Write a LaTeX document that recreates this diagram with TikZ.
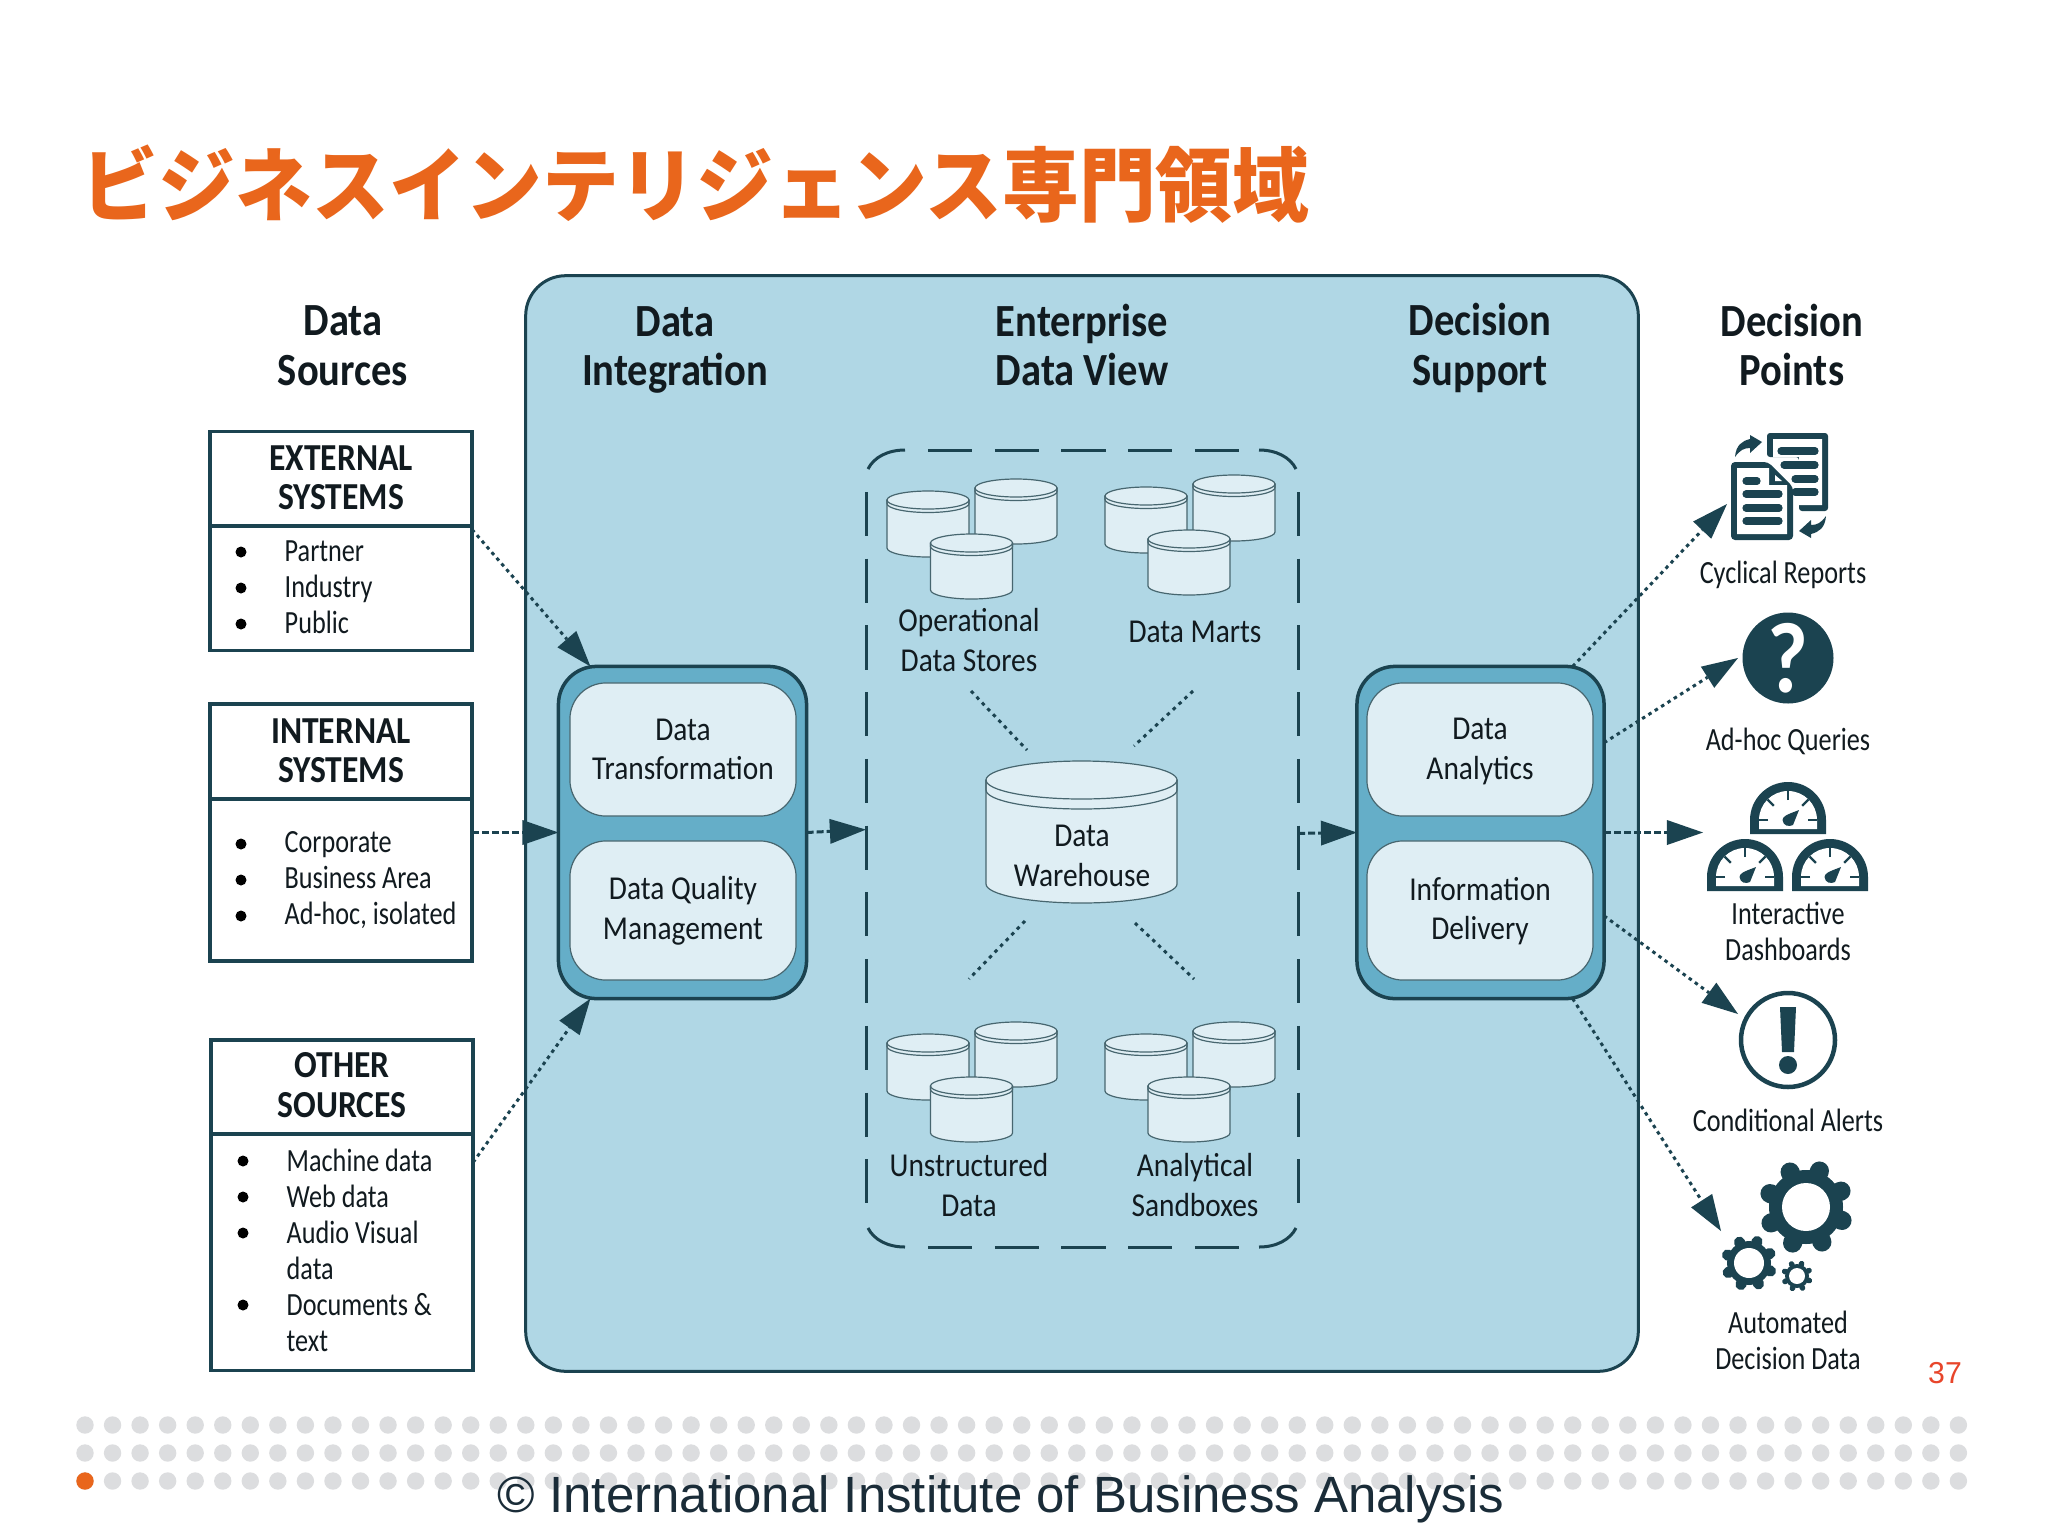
\documentclass[tikz,border=0pt]{standalone}
\usepackage{fontspec}
\usetikzlibrary{arrows.meta}
\setmainfont{Carlito}[FakeStretch=0.88]
\newfontfamily\narrowlab{Carlito}[FakeStretch=0.81]
\newfontfamily\cjk{Noto Sans CJK JP}[FakeStretch=0.95]
\newfontfamily\arialish{Liberation Sans}
\definecolor{dk}{HTML}{1B4350}
\definecolor{bluebg}{HTML}{B0D7E5}
\definecolor{groupbg}{HTML}{65AEC8}
\definecolor{pale}{HTML}{DFEEF4}
\definecolor{cylline}{HTML}{47666F}
\definecolor{dotgrey}{HTML}{DCDDDF}
\definecolor{titleor}{HTML}{E9661C}
\definecolor{pagered}{HTML}{E8452A}
\definecolor{inktext}{HTML}{111A1F}
\definecolor{copytext}{HTML}{1A2C38}

% database drum: cx, top, rx, ry, band, bottom
\newcommand{\dbdrum}[6]{%
  \pgfmathsetmacro\drumL{#1-#3}\pgfmathsetmacro\drumR{#1+#3}%
  \pgfmathsetmacro\drumC{#2+#4}\pgfmathsetmacro\drumB{#6-#4}%
  \pgfmathsetmacro\drumE{\drumC+#5}%
  \pgfmathsetmacro\drumKx{0.5523*#3}\pgfmathsetmacro\drumKy{0.5523*#4}%
  \draw[drum] (\drumL,\drumC) -- (\drumL,\drumB)
    .. controls (\drumL,\drumB+\drumKy) and (#1-\drumKx,#6) .. (#1,#6)
    .. controls (#1+\drumKx,#6) and (\drumR,\drumB+\drumKy) .. (\drumR,\drumB)
    -- (\drumR,\drumC) -- cycle;
  \draw[drum] (#1,\drumC) ellipse (#3 and #4);
  \draw[drum,fill=none] (\drumL,\drumC) -- (\drumL,\drumE)
    .. controls (\drumL,\drumE+\drumKy) and (#1-\drumKx,\drumE+#4) .. (#1,\drumE+#4)
    .. controls (#1+\drumKx,\drumE+#4) and (\drumR,\drumE+\drumKy) .. (\drumR,\drumE)
    -- (\drumR,\drumC);
}
% dome outline of a gauge: cx, base, r, y of arc centre, colour
\newcommand{\gaugedome}[5]{%
  \pgfmathsetmacro\domeK{0.5523*#3}%
  \fill[#5] (#1-#3,#2) -- (#1-#3,#4)
    .. controls (#1-#3,#4-\domeK) and (#1-\domeK,#4-#3) .. (#1,#4-#3)
    .. controls (#1+\domeK,#4-#3) and (#1+#3,#4-\domeK) .. (#1+#3,#4)
    -- (#1+#3,#2) -- cycle;
}
\newcommand{\gaugeicon}[2]{%
  \gaugedome{#1}{#2}{38}{#2-14}{dk}
  \gaugedome{#1}{#2-5}{29}{#2-14}{white}
  \begin{scope}[shift={(#1,#2-14)}]
    \foreach \t in {0,-45,-90,-135,180} \draw[dk,line width=0.022cm] (\t:20) -- (\t:29);
    \fill[dk] (11,-10) -- (5,5) .. controls (1,7) and (-5,6) .. (-5.5,0) .. controls (-5,-4) and (-2,-5) .. cycle;
  \end{scope}
}
% gear: cx, cy, root r, hole r, tooth width, tooth end r
\newcommand{\gearicon}[6]{%
  \begin{scope}[shift={(#1,#2)}]
    \fill[dk] (0,0) circle (#3);
    \foreach \g in {20.5,65.5,...,335.5}
      \draw[dk,line width=#5,line cap=round] (\g:#3) -- (\g:#6);
    \fill[white] (0,0) circle (#4);
  \end{scope}
}

\tikzset{
  drum/.style={draw=cylline,fill=pale,line width=0.012cm},
  srcbox/.style={rectangle,draw=dk,line width=0.032cm,fill=white,inner sep=0pt,outer sep=0pt},
  boxrule/.style={draw=dk,line width=0.032cm},
  group/.style={rectangle,rounded corners=0.38cm,draw=dk,line width=0.035cm,fill=groupbg,inner sep=0pt,outer sep=0pt},
  inner/.style={rectangle,rounded corners=0.36cm,draw=cylline,line width=0.012cm,fill=pale,inner sep=0pt,outer sep=0pt},
  head/.style={font=\fontsize{13.1}{14.1}\selectfont\bfseries,align=center,text=inktext,inner sep=0pt},
  boxhead/.style={font=\fontsize{10.85}{11.2}\selectfont\bfseries,align=center,text=inktext,inner sep=0pt},
  lab/.style={font=\fontsize{9.5}{11.3}\selectfont,align=center,text=inktext,inner sep=0pt},
  sidelab/.style={font=\narrowlab\fontsize{9.2}{10.2}\selectfont,align=center,text=inktext,inner sep=0pt},
  items/.style={font=\narrowlab\fontsize{9.2}{10.25}\selectfont,align=left,text=inktext,inner sep=0pt,anchor=west},
  bul/.style={fill=black},
  dvdash/.style={draw=dk,line width=0.03cm},
  dots/.style={draw=dk,line width=0.03cm,dash pattern=on 0.035cm off 0.04cm,
    -{Triangle[length=0.36cm,width=0.25cm,line width=0pt]}},
  dashes/.style={draw=dk,line width=0.03cm,dash pattern=on 0.07cm off 0.03cm,
    -{Triangle[length=0.36cm,width=0.25cm,line width=0pt]}},
  spoke/.style={draw=dk,line width=0.03cm,dash pattern=on 0.035cm off 0.045cm},
}

\begin{document}
\begin{tikzpicture}[x=0.01cm,y=-0.01cm]
\useasboundingbox (0,0) rectangle (2048,1536);
\fill[white] (0,0) rectangle (2048,1536);

% footer dots
\foreach \r/\yy in {0/1425,1/1453,2/1481}
  \foreach \c in {0,...,68}
    \fill[dotgrey] (85+27.55*\c,\yy) circle (8.7);
\fill[titleor] (85,1481) circle (8.7);

% title
\node[anchor=west,inner sep=0pt,text=titleor,font=\cjk\fontsize{23}{27}\selectfont\bfseries] (title) at (81,184) {ビジネスインテリジェンス専門領域};

% main panel
\node[rectangle,rounded corners=0.4cm,draw=dk,line width=0.03cm,fill=bluebg,inner sep=0pt,outer sep=0pt,minimum width=11.12cm,minimum height=10.95cm] (panel) at (1082,823.5) {};

% column heads
\node[head] (hsrc) at (343,346) {Data\\Sources};
\node[head] (hint) at (675,350) {Data\\Integration};
\node[head] (hedv) at (1082,345) {Enterprise\\Data View};
\node[head] (hdec) at (1480,348) {Decision\\Support};
\node[head] (hpts) at (1792,345) {Decision\\Points};

% source boxes
\node[srcbox,minimum width=2.62cm,minimum height=2.19cm] (ext) at (341,541) {};
\draw[boxrule] (ext.west |- 0,526) -- (ext.east |- 0,526);
\node[boxhead] (exth) at (341,478) {EXTERNAL\\SYSTEMS};
\node[items] (extl) at (284,587) {Partner\\Industry\\Public};
\foreach \yy in {552,588,624} \fill[bul] (241,\yy) circle (5.5);

\node[srcbox,minimum width=2.62cm,minimum height=2.57cm] (int) at (341,832.5) {};
\draw[boxrule] (int.west |- 0,799) -- (int.east |- 0,799);
\node[boxhead] (inth) at (341,751) {INTERNAL\\SYSTEMS};
\node[items] (intl) at (284,880) {Corporate\\Business Area\\Ad-hoc, isolated};
\foreach \yy in {844,880,916} \fill[bul] (241,\yy) circle (5.5);

\node[srcbox,minimum width=2.62cm,minimum height=3.30cm] (oth) at (342,1205) {};
\draw[boxrule] (oth.west |- 0,1134) -- (oth.east |- 0,1134);
\node[boxhead] (othh) at (342,1085) {OTHER\\SOURCES};
\node[items] (othl) at (286,1250) {Machine data\\Web data\\Audio Visual\\data\\Documents \&\\text};
\foreach \yy in {1161,1197,1233,1305} \fill[bul] (243,\yy) circle (5.5);

% integration group
\node[group,minimum width=2.48cm,minimum height=3.32cm] (lg) at (682.5,832.5) {};
\node[inner,minimum width=2.26cm,minimum height=1.33cm,align=center] (dt) at (683,749.5) {};
\node[inner,minimum width=2.26cm,minimum height=1.39cm,align=center] (dq) at (683,910.5) {};
\node[lab] (dtl) at (683,749.5) {Data\\Transformation};
\node[lab] (dql) at (683,911) {Data Quality\\Management};

% decision support group
\node[group,minimum width=2.47cm,minimum height=3.32cm] (rg) at (1480.5,832.5) {};
\node[inner,minimum width=2.26cm,minimum height=1.33cm] (da) at (1480,749.5) {};
\node[inner,minimum width=2.26cm,minimum height=1.39cm] (di) at (1480,910.5) {};
\node[lab] (dal) at (1480,751.5) {Data\\Analytics};
\node[lab] (dil) at (1480,911) {Information\\Delivery};

% dashed frame of the enterprise data view
\node[rectangle,inner sep=0pt,outer sep=0pt,minimum width=4.32cm,minimum height=7.97cm] (dv) at (1082,848.5) {};
\draw[dvdash,dash pattern=on 0.44cm off 0.227cm] (928,450) -- (1240,450);
\draw[dvdash,dash pattern=on 0.44cm off 0.227cm] (928,1247) -- (1240,1247);
\draw[dvdash,dash pattern=on 0.44cm off 0.227cm] (866,492) -- (866,1206);
\draw[dvdash,dash pattern=on 0.44cm off 0.227cm] (1298,492) -- (1298,1206);
\draw[dvdash] (868,469) .. controls (874,457) and (888,450) .. (905,450);
\draw[dvdash] (1296,469) .. controls (1290,457) and (1276,450) .. (1259,450);
\draw[dvdash] (868,1228) .. controls (874,1240) and (888,1247) .. (905,1247);
\draw[dvdash] (1296,1228) .. controls (1290,1240) and (1276,1247) .. (1259,1247);

% drums
\dbdrum{928}{491}{41}{9}{3.5}{557}
\dbdrum{1016}{479}{41}{9}{3.5}{544}
\dbdrum{971.5}{534}{41}{9}{3.5}{599}
\dbdrum{1146}{487}{41}{9}{3.5}{553}
\dbdrum{1234}{475}{41}{9}{3.5}{541}
\dbdrum{1189}{530}{41}{9}{3.5}{595}
\dbdrum{928}{1034}{41}{9}{3.5}{1100}
\dbdrum{1016}{1022}{41}{9}{3.5}{1087}
\dbdrum{971.5}{1077}{41}{9}{3.5}{1142}
\dbdrum{1146}{1034}{41}{9}{3.5}{1100}
\dbdrum{1234}{1022}{41}{9}{3.5}{1087}
\dbdrum{1189}{1077}{41}{9}{3.5}{1142}
\dbdrum{1081.5}{761}{95.5}{19}{10}{903}

\node[lab] (ods) at (969,640) {Operational\\Data Stores};
\node[lab] (mrt) at (1195,632) {Data Marts};
\node[lab] (dwh) at (1082,856) {Data\\Warehouse};
\node[lab] (uns) at (969,1185) {Unstructured\\Data};
\node[lab] (san) at (1195,1185) {Analytical\\Sandboxes};

% spokes around the warehouse
\coordinate (s1a) at (971,691);  \coordinate (s1b) at (1027,750);
\coordinate (s2a) at (1193,691); \coordinate (s2b) at (1134,746);
\coordinate (s3a) at (1025,921); \coordinate (s3b) at (969,979);
\coordinate (s4a) at (1135,923); \coordinate (s4b) at (1194,979);
\draw[spoke] (s1a) -- (s1b);
\draw[spoke] (s2a) -- (s2b);
\draw[spoke] (s3a) -- (s3b);
\draw[spoke] (s4a) -- (s4b);

% cyclical reports icon
\fill[dk,rounded corners=0.03cm] (1767,457) -- (1767,433) -- (1828,433) -- (1828,511) -- (1799,511) -- (1799,457) -- cycle;
\fill[white] (1773,457) -- (1773,439) -- (1822,439) -- (1822,505) -- (1799,505) -- (1799,457) -- cycle;
\draw[dk,line width=0.072cm,line cap=round] (1781,451) -- (1815,451);
\draw[dk,line width=0.072cm,line cap=round] (1784,465) -- (1815,465);
\draw[dk,line width=0.072cm,line cap=round] (1795,479) -- (1815,479);
\draw[dk,line width=0.072cm,line cap=round] (1795,492) -- (1815,492);
\fill[dk,rounded corners=0.04cm] (1731,462) -- (1768,462) -- (1793,487) -- (1793,540) -- (1731,540) -- cycle;
\fill[white] (1737,468) -- (1769,468) -- (1769,485) -- (1787,485) -- (1787,534) -- (1737,534) -- cycle;
\fill[white] (1775,475) -- (1782,481) -- (1775,481) -- cycle;
\draw[dk,line width=0.072cm,line cap=round] (1746,481) -- (1757,481);
\draw[dk,line width=0.072cm,line cap=round] (1746,494) -- (1779,494);
\draw[dk,line width=0.072cm,line cap=round] (1746,508) -- (1779,508);
\draw[dk,line width=0.072cm,line cap=round] (1746,521) -- (1779,521);
\fill[dk] (1735,457) .. controls (1736,445) and (1742,441) .. (1750,439) -- (1750,435) -- (1762,442) -- (1750,453) -- (1750,448) .. controls (1744,448) and (1740,450) .. cycle;
\fill[dk] (1826,516) .. controls (1825,528) and (1819,532) .. (1811,534) -- (1811,538) -- (1799,531) -- (1811,520) -- (1811,525) .. controls (1817,525) and (1821,523) .. cycle;

% ad-hoc icon
\fill[dk] (1788,658) circle (45.5);
\node[inner sep=0pt,text=white,font=\fontsize{28.5}{30}\selectfont\bfseries] (qm) at (1788,658) {?};

% dashboards icon
\gaugeicon{1788}{834}
\gaugeicon{1745}{891}
\gaugeicon{1830}{891}

% alert icon
\draw[dk,line width=0.045cm] (1788,1040) circle (47);
\fill[dk] (1780,1007) -- (1796,1007) -- (1794,1052) -- (1782,1052) -- cycle;
\fill[dk] (1788,1065) circle (9);

% gears icon
\gearicon{1806}{1207}{37}{24}{0.19cm}{38.5}
\gearicon{1749}{1263}{22}{15}{0.11cm}{23}
\gearicon{1797}{1276}{12}{8}{0.055cm}{13.2}

% targets of the outgoing arrows
\coordinate (tcyc) at (1727,504);
\coordinate (tadh) at (1738,658);
\coordinate (tdsh) at (1703,832.5);
\coordinate (talr) at (1738,1014);
\coordinate (taut) at (1721,1231);

\node[sidelab] (cyc) at (1783,575) {Cyclical Reports};
\node[sidelab] (adh) at (1788,741) {Ad-hoc Queries};
\node[sidelab] (dsh) at (1788,931) {Interactive\\Dashboards};
\node[sidelab] (alr) at (1788,1120) {Conditional Alerts};
\node[sidelab] (aut) at (1788,1340) {Automated\\Decision Data};

% connectors
\draw[dots] (ext.5) -- (lg.119.05);
\draw[dashes] (int.east) -- (lg.west);
\draw[dots] (oth.18.5) -- (lg.-119.05);
\draw[dashes] (lg.east) -- (dv.175.76);
\draw[dashes] (dv.4.24) -- (rg.west);
\draw[dots] (rg.61.3) -- (tcyc);
\draw[dots] (rg.36.2) -- (tadh);
\draw[dashes] (rg.east) -- (tdsh);
\draw[dots] (rg.-34.3) -- (talr);
\draw[dots] (rg.-61.3) -- (taut);

% page number and footer line
\node[inner sep=0pt,text=pagered,font=\arialish\fontsize{8.6}{10}\selectfont] (pg) at (1945,1373) {37};
\node[inner sep=0pt,anchor=base west,text=copytext,font=\arialish\fontsize{14.49}{16}\selectfont] (copy) at (497,1512) {© International Institute of Business Analysis};
\end{tikzpicture}
\end{document}
